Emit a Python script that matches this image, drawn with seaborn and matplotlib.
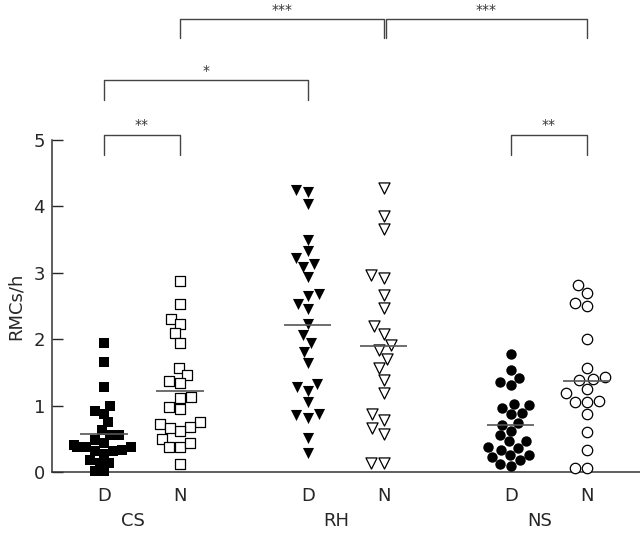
import pandas as pd
import matplotlib
matplotlib.use("Agg")
import matplotlib.pyplot as plt
import seaborn as sns

groups = ["CS", "RH", "NS"]
conditions = ["D", "N"]

# RMCs/h
cs_d = [1.95, 1.66, 1.28, 0.99, 0.92, 0.88, 0.75, 0.64, 0.55, 0.55, 0.48, 0.44,
        0.40, 0.37, 0.37, 0.37, 0.31, 0.31, 0.33, 0.27, 0.18, 0.14, 0.14, 0.02, 0.02]
cs_n = [2.87, 2.53, 2.31, 2.23, 2.09, 1.95, 1.57, 1.46, 1.37, 1.34, 1.13, 1.12,
        0.98, 0.95, 0.75, 0.68, 0.72, 0.62, 0.66, 0.49, 0.38, 0.43, 0.38, 0.12]
rh_d = [4.21, 4.24, 4.04, 3.50, 3.33, 3.22, 3.13, 3.08, 2.93, 2.65, 2.68, 2.53,
        2.45, 2.23, 2.06, 1.94, 1.80, 1.64, 1.32, 1.28, 1.22, 1.05, 0.86, 0.88,
        0.82, 0.51, 0.28]
rh_n = [4.27, 3.85, 3.66, 2.97, 2.92, 2.67, 2.47, 2.20, 2.08, 1.91, 1.84, 1.70,
        1.56, 1.39, 1.19, 0.88, 0.79, 0.66, 0.58, 0.14, 0.14]
ns_d = [1.77, 1.54, 1.42, 1.35, 1.31, 1.01, 1.02, 0.97, 0.89, 0.87, 0.71, 0.74,
        0.62, 0.55, 0.47, 0.46, 0.37, 0.33, 0.36, 0.25, 0.26, 0.22, 0.18, 0.12, 0.09]
ns_n = [2.82, 2.70, 2.55, 2.50, 2.01, 1.56, 1.40, 1.38, 1.43, 1.25, 1.19, 1.06,
        1.07, 1.05, 0.87, 0.61, 0.33, 0.06, 0.06]

# significance brackets: (from group/cond, to group/cond, label, level)
brackets = [
    (("CS", "D"), ("CS", "N"), "**", 0),
    (("NS", "D"), ("NS", "N"), "**", 0),
    (("CS", "D"), ("RH", "D"), "*", 1),
    (("CS", "N"), ("RH", "N"), "***", 2),
    (("RH", "N"), ("NS", "N"), "***", 2),
]

values = {
    ("CS", "D"): cs_d, ("CS", "N"): cs_n,
    ("RH", "D"): rh_d, ("RH", "N"): rh_n,
    ("NS", "D"): ns_d, ("NS", "N"): ns_n,
}
rows = [(g, c, v) for (g, c), vals in values.items() for v in vals]
df = pd.DataFrame(rows, columns=["group", "cond", "rmc"])

group_x = {"CS": 0.0, "RH": 2.68, "NS": 5.35}
df["x"] = df["group"].map(group_x) + (df["cond"] == "N").astype(float)
markers = {"CS": "s", "RH": "v", "NS": "o"}
sizes = {"CS": 6.5, "RH": 8, "NS": 7.5}

sns.set_style("ticks")
plt.rcParams["font.family"] = ["DejaVu Sans"]
fig = plt.figure(figsize=(6.4, 5.33), dpi=100)
ax = fig.add_axes([0.08125, 0.1144, 0.91875, 0.623])

for (g, c), sub in df.groupby(["group", "cond"], sort=False):
    filled = c == "D"
    sns.swarmplot(data=sub, x="x", y="rmc", native_scale=True, orient="x",
                  marker=markers[g], size=sizes[g],
                  color="black" if filled else "white",
                  edgecolor="black", linewidth=0 if filled else 0.9,
                  clip_on=False, zorder=3, ax=ax)

means = df.groupby(["group", "cond"], sort=False).agg(x=("x", "first"), m=("rmc", "mean"))
ax.hlines(means["m"], means["x"] - 0.31, means["x"] + 0.31, color="#555555",
          linewidth=1.2, zorder=4)

ax.set_xlim(-0.684, 7.05)
ax.set_ylim(0, 5)
ticks = means["x"].tolist()
ax.set_xticks(ticks)
ax.set_xticklabels([c for (_, c) in means.index], fontsize=13)
ax.tick_params(axis="x", length=0, pad=11)
ax.set_yticks(range(6))
ax.tick_params(axis="y", direction="in", length=8, width=1, labelsize=13, pad=5)
ax.set_xlabel("")
ax.set_ylabel("RMCs/h", fontsize=13, labelpad=6)
sns.despine(ax=ax)
for s in ["left", "bottom"]:
    ax.spines[s].set_color("#333333")
    ax.spines[s].set_linewidth(1.1)

for g in groups:
    ax.text(group_x[g] + 0.38, -0.148, g, transform=ax.get_xaxis_transform(),
            ha="center", va="center", fontsize=13)

levels = {0: (5.08, 4.77), 1: (5.90, 5.60), 2: (6.82, 6.54)}
for a, b, lab, lev in brackets:
    xa = group_x[a[0]] + (a[1] == "N")
    xb = group_x[b[0]] + (b[1] == "N")
    if lev == 2 and a[0] == "RH":
        xa += 0.03
    top, low = levels[lev]
    ax.plot([xa, xa, xb, xb], [low, top, top, low], color="#444444",
            linewidth=1.0, clip_on=False)
    ax.text((xa + xb) / 2, top + 0.08, lab, ha="center", va="baseline",
            fontsize=10, color="#333333", clip_on=False)

fig.savefig("out.png", dpi=100)
